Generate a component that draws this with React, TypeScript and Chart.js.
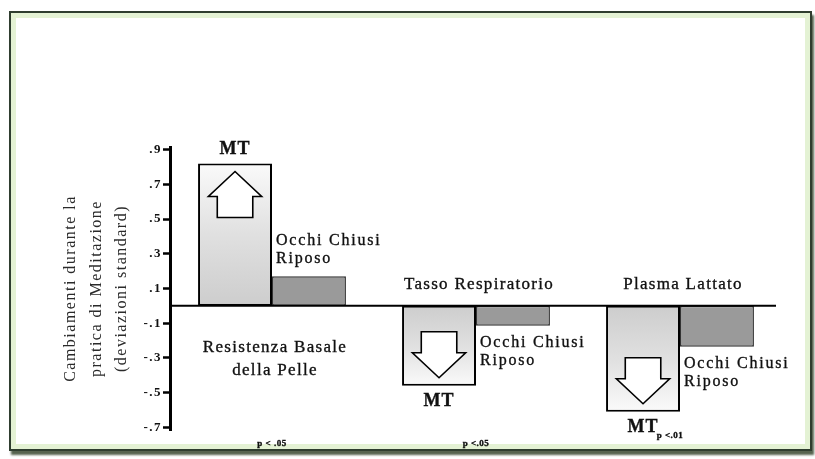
import React, { useEffect, useRef } from 'react';
import { Chart, registerables } from 'chart.js';

Chart.register(...registerables);

// ---- data ----
const categories: string[][] = [['Resistenza Basale', 'della Pelle'], ['Tasso Respiratorio'], ['Plasma Lattato']];
const seriesNames = ['MT', 'Occhi Chiusi Riposo'];
const mtValues = [0.82, -0.46, -0.61];
const riposoValues = [0.17, -0.115, -0.235];
const riposoLabel = ['Occhi Chiusi', 'Riposo'];
const pValues = ['p < .05', 'p <.05', 'p <.01'];
const yTickValues = [0.9, 0.7, 0.5, 0.3, 0.1, -0.1, -0.3, -0.5, -0.7];
const yTickLabels = ['.9', '.7', '.5', '.3', '.1', '-.1', '-.3', '-.5', '-.7'];
const yTitle = ['Cambiamenti durante la', 'pratica di Meditazione', '(deviazioni standard)'];
const yMin = -0.715;
const yMax = 0.915;

const SERIF = '"Liberation Serif", "Times New Roman", serif';

function drawText(ctx: CanvasRenderingContext2D, s: string, x: number, y: number, font: string, align: CanvasTextAlign, ls: string) {
  ctx.save();
  ctx.font = font;
  (ctx as any).letterSpacing = ls;
  ctx.textAlign = align;
  ctx.textBaseline = 'middle';
  ctx.fillStyle = '#111';
  ctx.fillText(s, x, y);
  ctx.strokeStyle = '#111';
  ctx.lineWidth = 0.35;
  ctx.strokeText(s, x, y);
  ctx.restore();
}

function drawArrow(ctx: CanvasRenderingContext2D, cx: number, end: number, up: boolean, w: number) {
  const s = up ? 1 : -1;
  const tip = end + 8 * s;
  const hb = tip + 25 * s;
  const se = hb + 21 * s;
  const hw = w * 0.36;
  const sw = w * 0.24;
  ctx.save();
  ctx.beginPath();
  ctx.moveTo(cx, tip);
  ctx.lineTo(cx + hw, hb);
  ctx.lineTo(cx + sw, hb);
  ctx.lineTo(cx + sw, se);
  ctx.lineTo(cx - sw, se);
  ctx.lineTo(cx - sw, hb);
  ctx.lineTo(cx - hw, hb);
  ctx.closePath();
  ctx.fillStyle = '#fff';
  ctx.fill();
  ctx.strokeStyle = '#000';
  ctx.lineWidth = 1.6;
  ctx.stroke();
  ctx.restore();
}

const annotPlugin = {
  id: 'annot',
  beforeDraw(chart: any) {
    chart.ctx.letterSpacing = '1.5px';
  },
  afterDatasetsDraw(chart: any) {
    const ctx: CanvasRenderingContext2D = chart.ctx;
    const ys = chart.scales.y;
    const zeroY = ys.getPixelForValue(0);
    const area = chart.chartArea;
    ctx.save();
    (ctx as any).letterSpacing = '0px';
    ctx.strokeStyle = '#000';
    ctx.lineWidth = 2;
    ctx.beginPath();
    ctx.moveTo(area.left, zeroY);
    ctx.lineTo(area.right - 6, zeroY);
    ctx.stroke();
    ctx.restore();

    const mtMeta = chart.getDatasetMeta(0);
    const rMeta = chart.getDatasetMeta(1);
    mtMeta.data.forEach((bar: any, i: number) => {
      const b = bar.getProps(['x', 'y', 'width'], true);
      const pos = mtValues[i] >= 0;
      drawArrow(ctx, b.x, b.y, pos, b.width);
      const mtY = pos ? b.y - 14 : b.y + 16;
      drawText(ctx, seriesNames[0], b.x, mtY, `bold 18px ${SERIF}`, 'center', '1px');

      const rb = rMeta.data[i].getProps(['x', 'y', 'width'], true);
      const rLeft = rb.x - rb.width / 2 + 4;
      const rPos = riposoValues[i] >= 0;
      const l1 = rPos ? rb.y - 36 : rb.y + 17;
      riposoLabel.forEach((s, k) => drawText(ctx, s, rLeft, l1 + 18 * k, `16px ${SERIF}`, 'left', '1.8px'));

      const cx = (b.x + rb.x) / 2 + 3;
      const lines = categories[i];
      const c0 = pos ? zeroY + 42 : zeroY - 21 - (lines.length - 1) * 23;
      lines.forEach((s, k) => drawText(ctx, s, cx, c0 + 23 * k, `17px ${SERIF}`, 'center', '1.3px'));

      let px = (b.x + rb.x) / 2;
      let py = 444;
      if (!pos && mtY > 415) {
        px = b.x + 27;
        py = mtY + 8;
      }
      drawText(ctx, pValues[i], px, py, `bold 9px ${SERIF}`, 'center', '0.5px');
    });
  },
  afterDraw(chart: any) {
    chart.ctx.letterSpacing = '0px';
  },
};

function mtGradient(c: any) {
  const chart = c.chart;
  const ys = chart.scales && chart.scales.y;
  if (!chart.chartArea || !ys || typeof c.raw !== 'number') return '#dcdcdc';
  const y0 = ys.getPixelForValue(0);
  const y1 = ys.getPixelForValue(c.raw);
  if (!isFinite(y0) || !isFinite(y1) || y0 === y1) return '#dcdcdc';
  const g = chart.ctx.createLinearGradient(0, y0, 0, y1);
  g.addColorStop(0, '#cdcdcd');
  g.addColorStop(0.5, '#e0e0e0');
  g.addColorStop(1, '#fafafa');
  return g;
}

export default function App() {
  const ref = useRef<HTMLCanvasElement>(null);
  useEffect(() => {
    const canvas = ref.current;
    if (!canvas) return;
    const chart = new Chart(canvas, {
      type: 'bar',
      data: {
        labels: categories as any,
        datasets: [
          {
            label: seriesNames[0],
            data: mtValues,
            backgroundColor: mtGradient as any,
            borderColor: '#000',
            borderWidth: 2,
            borderSkipped: false,
            categoryPercentage: 0.725,
            barPercentage: 1,
          },
          {
            label: seriesNames[1],
            data: riposoValues,
            backgroundColor: '#9a9a9a',
            borderColor: '#333',
            borderWidth: 1.5,
            borderSkipped: false,
            categoryPercentage: 0.725,
            barPercentage: 1,
          },
        ],
      },
      options: {
        responsive: false,
        animation: false,
        layout: { padding: { left: 8, top: 147, right: 33, bottom: 29 } },
        plugins: {
          legend: { display: false },
          tooltip: { enabled: false },
          title: { display: false },
        },
        scales: {
          x: { type: 'category', display: false, offset: true, grid: { display: false } },
          y: {
            type: 'linear',
            min: yMin,
            max: yMax,
            afterBuildTicks: (s: any) => {
              s.ticks = yTickValues.map((v) => ({ value: v }));
            },
            afterFit: (s: any) => {
              s.width = 162;
            },
            border: { display: true, color: '#000', width: 3 },
            grid: { drawOnChartArea: false, drawTicks: true, tickLength: 7, tickWidth: 2.5, tickColor: '#000' },
            ticks: {
              autoSkip: false,
              padding: 1,
              color: '#111',
              font: { family: 'Liberation Serif', size: 13, weight: 'bold' },
              callback: (v: any) => {
                const i = yTickValues.findIndex((t) => Math.abs(t - Number(v)) < 1e-6);
                return i >= 0 ? yTickLabels[i] : '';
              },
            },
            title: {
              display: true,
              text: yTitle,
              color: '#2a2a2a',
              font: { family: 'Liberation Serif', size: 16, lineHeight: 1.6 },
              padding: { top: 50, bottom: 0 },
            },
          },
        },
      } as any,
      plugins: [annotPlugin],
    });
    return () => chart.destroy();
  }, []);

  return (
    <div style={{ position: 'fixed', left: 0, top: 0, width: 815, height: 459, background: '#fff' }}>
      <div
        style={{
          position: 'absolute',
          left: 9,
          top: 11,
          width: 799,
          height: 436,
          border: '2px solid #2f3d2f',
          boxShadow: 'inset 0 0 0 5px #e4f2d4, 2px 4px 2px #56634f',
          background: '#fff',
        }}
      />
      <div style={{ position: 'absolute', left: 0, top: 0, width: 815, height: 459 }}>
        <canvas ref={ref} width={815} height={459} style={{ display: 'block' }} />
      </div>
    </div>
  );
}
